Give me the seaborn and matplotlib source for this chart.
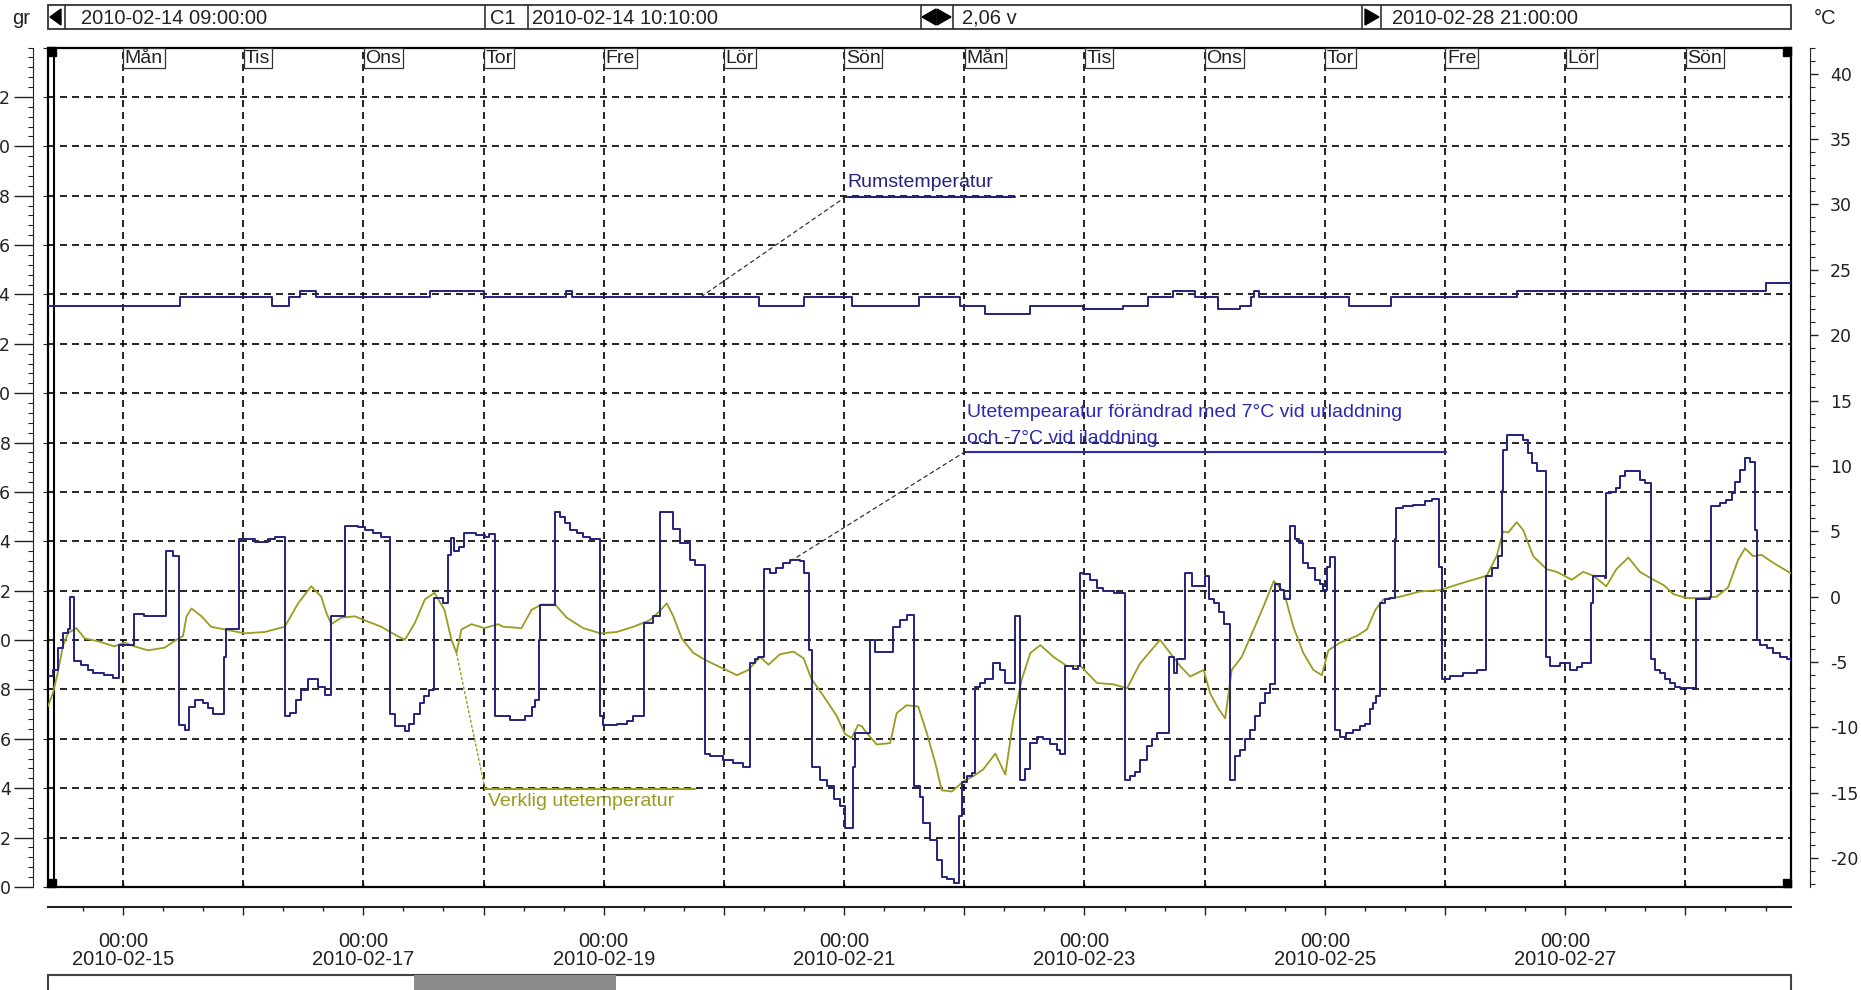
import matplotlib
matplotlib.use("Agg")
import numpy as np
import pandas as pd
import matplotlib.pyplot as plt
import matplotlib.dates as mdates
from matplotlib.patches import Rectangle, Polygon
from matplotlib.ticker import MultipleLocator, FixedLocator, FuncFormatter
import seaborn as sns

# time span shown by the logger
start = pd.Timestamp("2010-02-14 09:00:00")
end = pd.Timestamp("2010-02-28 21:00:00")
c1_time = pd.Timestamp("2010-02-14 10:10:00")

# outdoor temp shifted +7 (discharge) / -7 (charge), hours after start, degC
mod_h = [0.0, 1.0, 2.0, 3.0, 4.0, 4.4, 5.2, 6.7, 8.0, 9.0, 11.3, 13.0, 14.3, 17.2, 19.3, 23.7, 25.0,
         26.1, 27.3, 28.1, 29.3, 31.0, 32.0, 33.0, 35.2, 35.6, 38.2, 41.3, 43.9, 45.3, 47.3, 48.3,
         49.6, 50.6, 51.9, 53.9, 55.3, 56.5, 59.3, 61.9, 63.3, 64.9, 66.6, 68.3, 69.3, 71.3, 72.2,
         73.2, 74.3, 75.2, 76.2, 77.2, 78.9, 79.9, 80.6, 81.2, 82.2, 83.2, 85.6, 87.2, 88.0, 89.2,
         92.3, 95.3, 96.6, 97.3, 98.0, 98.3, 101.3, 102.3, 103.3, 104.3, 105.6, 106.9, 108.3, 110.3,
         110.9, 113.6, 115.6, 116.9, 119.1, 120.9, 122.2, 124.9, 126.2, 128.2, 129.2, 131.2, 132.2,
         134.9, 136.9, 138.9, 140.2, 141.2, 141.9, 143.0, 144.2, 145.5, 146.9, 148.2, 150.2, 150.9,
         151.9, 152.5, 154.2, 155.5, 156.9, 158.2, 159.2, 160.8, 161.2, 164.2, 165.2, 168.8, 170.2,
         171.5, 173.0, 174.2, 174.8, 176.2, 177.5, 178.5, 179.5, 180.9, 181.9, 182.5, 183.5, 184.5,
         185.2, 186.2, 187.2, 188.8, 190.2, 191.2, 193.2, 194.2, 195.2, 196.2, 197.5, 198.8, 200.2,
         201.5, 202.2, 203.2, 204.8, 205.8, 206.2, 206.8, 208.1, 209.5, 210.8, 212.8, 215.1, 216.1,
         217.1, 218.1, 219.5, 220.5, 221.5, 223.8, 224.8, 225.5, 227.1, 228.5, 231.1, 231.8, 232.8,
         233.8, 234.8, 236.1, 237.1, 238.1, 239.1, 240.1, 241.1, 242.1, 243.1, 244.1, 245.1, 246.1,
         246.8, 248.1, 249.1, 249.8, 250.7, 251.7, 253.1, 254.1, 254.7, 255.4, 256.1, 257.1, 258.1,
         259.3, 260.7, 262.0, 263.0, 264.0, 264.7, 265.3, 266.0, 267.0, 268.0, 269.0, 269.3, 270.6,
         272.6, 275.0, 276.3, 277.8, 278.3, 280.0, 282.6, 285.3, 287.2, 288.3, 289.6, 290.3, 290.6,
         291.3, 294.6, 295.6, 296.3, 297.3, 299.1, 299.9, 301.9, 303.9, 305.3, 306.3, 308.1, 308.6,
         310.9, 311.2, 312.2, 313.2, 313.9, 314.9, 316.9, 317.9, 318.9, 320.2, 320.9, 321.9, 322.9,
         323.9, 324.9, 325.9, 329.1, 331.9, 332.2, 333.9, 335.2, 336.2, 336.9, 337.9, 338.9, 339.9,
         340.9, 341.2, 341.9, 343.2, 344.5, 345.9, 347.2, 348.0]
mod_t = [-6.1, -5.6, -3.9, -2.8, -2.5, 0.0, -4.9, -5.2, -5.6, -5.8, -6.0, -6.2, -3.7, -1.3, -1.5, 3.5, 3.1,
         -9.8, -10.2, -8.4, -7.9, -8.1, -8.5, -9.0, -4.6, -2.5, 4.4, 4.2, 4.4, 4.6, -9.1, -8.9,
         -7.9, -7.1, -6.3, -6.9, -7.5, -1.5, 5.4, 5.3, 5.1, 4.9, 4.6, -9.0, -9.9, -10.3, -9.7,
         -9.0, -8.1, -7.6, -7.1, -0.1, -0.5, 3.2, 4.5, 3.5, 3.8, 4.9, 4.7, 4.6, 4.8, -9.1,
         -9.4, -9.1, -8.4, -7.9, -3.3, -0.6, 6.5, 6.1, 5.6, 5.1, 4.9, 4.6, 4.4, -9.1,
         -9.8, -9.7, -9.5, -9.1, -2.0, -1.5, 6.5, 5.2, 4.1, 2.8, 2.4, -12.0, -12.2,
         -12.5, -12.7, -13.0, -5.1, -4.8, -4.6, 2.1, 1.8, 2.2, 2.6, 2.8, 2.7, 1.8,
         -4.1, -13.0, -14.0, -14.5, -15.5, -16.0, -17.7, -13.0, -10.4, -3.3, -4.2, -2.3, -1.8,
         -1.4, -14.5, -15.3, -17.3, -18.6, -20.1, -21.4, -21.6, -21.9, -16.8, -14.2, -13.7, -13.5,
         -6.9, -6.6, -6.3, -5.1, -5.6, -6.6, -1.5, -14.0, -13.2, -11.2, -10.7, -10.9, -11.3,
         -11.7, -12.0, -5.3, -5.5, -5.3, 1.8, 1.7, 1.3, 0.7, 0.4, 0.3, -14.0, -13.7,
         -13.4, -12.5, -11.4, -10.9, -10.4, -4.6, -5.8, -4.8, 1.8, 0.8, 1.6, -0.2, -0.5,
         -1.2, -2.1, -14.0, -12.2, -11.7, -10.9, -10.2, -9.1, -8.1, -7.4, -6.7, 1.0, 0.5,
         -0.2, 5.4, 4.4, 4.1, 2.6, 2.2, 1.3, 1.0, 0.5, 2.3, 3.0, -10.2, -10.7,
         -10.4, -10.2, -9.9, -9.7, -8.6, -8.1, -7.6, -0.5, -0.2, -0.1, 4.4, 6.8, 6.9,
         7.0, 7.3, 7.5, 2.3, -6.3, -6.1, -5.8, -5.6, 1.6, 2.2, 3.1, 8.1, 11.2,
         12.4, 12.0, 11.0, 10.2, 9.6, -4.6, -5.3, -5.1, -5.6, -5.4, -5.1, -0.5, 1.6,
         1.4, 7.9, 8.0, 8.3, 9.2, 9.6, 9.6, 8.9, 8.7, -4.8, -5.6, -5.8, -6.3,
         -6.6, -6.9, -7.0, -0.2, 0.0, 6.9, 7.2, 7.4, 7.9, 8.8, 9.7, 10.6, 10.3,
         5.1, -3.3, -3.7, -3.9, -4.3, -4.6, -4.8, -4.9]

# real outdoor temperature
ute_h = [0.0, 1.0, 2.0, 3.0, 4.0, 5.7, 7.4, 10.0, 13.3, 15.3, 17.3, 20.0, 23.3, 25.7, 27.0, 27.7, 28.7,
         30.7, 32.6, 35.3, 39.3, 43.3, 47.3, 50.0, 52.6, 54.6, 55.6, 56.6, 58.6, 61.3, 63.9, 66.6,
         69.3, 71.3, 73.3, 75.3, 77.2, 79.2, 80.6, 81.6, 82.6, 84.6, 87.2, 89.9, 91.0, 94.6, 96.6,
         98.6, 101.3, 103.6, 106.9, 110.3, 113.6, 116.9, 120.2, 122.2, 123.6, 124.9, 126.6, 128.9,
         131.6, 134.9, 137.6, 139.9, 142.2, 143.9, 146.2, 148.9, 150.9, 152.5, 154.9, 157.5, 159.2,
         160.5, 161.8, 162.5, 163.5, 165.5, 168.2, 169.5, 171.5, 173.8, 175.5, 177.2, 178.5, 180.5,
         182.9, 184.9, 186.8, 189.2, 191.2, 192.8, 194.5, 196.2, 198.2, 200.8, 203.5, 206.2, 209.5,
         212.8, 215.5, 218.1, 222.1, 224.1, 226.1, 228.1, 230.8, 232.1, 233.8, 235.1, 236.4, 238.4,
         240.8, 242.8, 244.8, 246.8, 248.7, 250.7, 252.7, 254.4, 255.7, 258.1, 261.4, 263.4, 265.1,
         266.7, 270.0, 274.0, 278.0, 282.0, 287.3, 289.3, 290.6, 291.6, 293.3, 294.6, 296.6, 299.3,
         301.3, 304.3, 306.6, 308.6, 311.2, 313.2, 315.6, 317.9, 320.6, 322.6, 324.6, 327.2, 329.9,
         333.2, 335.5, 337.5, 338.9, 340.5, 342.2, 344.5, 348.0]
ute_t = [-8.4, -7.4, -5.8, -3.8, -2.8, -2.4, -3.2, -3.4, -3.8, -3.5, -3.8, -4.1, -3.9, -3.3, -3.0, -1.5, -0.9,
         -1.5, -2.3, -2.5, -2.8, -2.7, -2.3, -0.5, 0.8, 0.0, -1.2, -2.1, -1.6, -1.5, -1.9, -2.3,
         -2.9, -3.3, -2.0, -0.2, 0.3, -1.0, -3.3, -4.3, -2.5, -2.1, -2.4, -2.1, -2.3, -2.4, -1.0,
         -0.6, -0.6, -1.6, -2.4, -2.8, -2.7, -2.3, -1.8, -1.1, -0.5, -1.5, -3.2, -4.3,
         -4.9, -5.5, -6.0, -5.6, -4.6, -5.2, -4.4, -4.2, -4.7, -6.3, -7.6, -9.1, -10.5,
         -10.8, -9.8, -9.9, -10.4, -11.3, -11.2, -8.9, -8.3, -8.4, -10.4, -12.7, -14.8, -14.9,
         -14.1, -13.7, -13.2, -12.0, -13.6, -9.4, -6.3, -4.3, -3.7, -4.6, -5.3, -5.3, -6.6,
         -6.7, -7.0, -5.1, -3.3, -4.3, -5.3, -6.1, -5.6, -7.4, -8.6, -9.3, -5.6, -4.6,
         -2.5, -0.7, 1.2, 0.4, -2.3, -4.3, -5.6, -6.0, -4.1, -3.5, -3.0, -2.5, -1.0,
         -0.2, 0.0, 0.4, 0.5, 1.0, 1.6, 3.1, 5.0, 4.9, 5.7, 5.1, 3.1, 2.1,
         1.9, 1.3, 1.9, 1.6, 0.8, 2.1, 3.0, 1.9, 1.3, 0.9, 0.2, -0.1, -0.1,
         0.0, 0.7, 2.8, 3.7, 3.1, 3.2, 2.6, 1.8]

# room temperature (step data)
rum_h = [0.0, 26.3, 44.7, 48.1, 50.3, 53.5, 76.4, 87.0, 103.4, 104.6, 142.0, 151.0, 160.5, 174.0, 182.1,
         187.2, 196.1, 206.7, 214.6, 219.6, 224.6, 229.1, 233.6, 238.0, 240.3, 240.8, 241.9, 259.8,
         268.2, 293.4, 343.1, 348.0]
rum_t = [22.2, 22.9, 22.2, 22.9, 23.4, 22.9, 23.4, 22.9, 23.4, 22.9, 22.2, 22.9, 22.2, 22.9, 22.2,
         21.6, 22.2, 22.0, 22.2, 22.9, 23.4, 22.9, 22.0, 22.2, 22.9, 23.4, 22.9, 22.2,
         22.9, 23.4, 24.0, 24.0]

day_names = ["Mån", "Tis", "Ons", "Tor", "Fre", "Lör", "Sön"]
left_ticks = list(range(0, 33, 2))
right_ticks = list(range(-20, 41, 5))

navy = "#23237e"
note_blue = "#2a2ab4"
olive = "#9b9b1f"


def to_time(hours):
    return start + pd.to_timedelta(np.asarray(hours), unit="h")


def step_at(h, hs, ts):
    i = np.searchsorted(hs, h, side="right") - 1
    return ts[i]


sns.set_style("white")
plt.rcParams["font.family"] = ["Liberation Sans", "DejaVu Sans"]
plt.rcParams["axes.unicode_minus"] = False

W, H = 1861, 990
fig = plt.figure(figsize=(W / 100, H / 100), dpi=100)


def fx(px):
    return px / W


def fy(py):
    return 1 - py / H


# plot area in pixels
L, R, T, B = 47.8, 1790.6, 47.5, 887.0
ax = fig.add_axes([fx(L), fy(B), fx(R - L), (B - T) / H])
ax.set_xlim(start, end)
ax.set_ylim(0, 34)
ax.xaxis.set_major_locator(mdates.DayLocator())
ax.yaxis.set_major_locator(MultipleLocator(2))
ax.grid(True, color="black", linestyle=(0, (4.2, 3.0)), linewidth=1.2)
ax.tick_params(axis="y", left=False, right=False, labelleft=False)
ax.tick_params(axis="x", direction="in", length=3, width=1, bottom=True, top=False,
               labelbottom=False, color="black")
for s in ax.spines.values():
    s.set_color("black")
    s.set_linewidth(1.6)

# left scale (gr)
axl = ax.twinx()
axl.set_ylim(0, 34)
axl.yaxis.tick_left()
for name in ["right", "top", "bottom"]:
    axl.spines[name].set_visible(False)
axl.spines["left"].set_visible(True)
axl.spines["left"].set_position(("outward", 10.7))
axl.spines["left"].set_color("#222")
axl.yaxis.set_major_locator(FixedLocator(left_ticks))
axl.yaxis.set_minor_locator(MultipleLocator(0.4))
axl.tick_params(axis="y", which="major", direction="out", length=14, width=1, pad=2,
                labelsize=12.5, labelcolor="#222", labelfontfamily="DejaVu Sans", color="#222")
axl.tick_params(axis="y", which="minor", direction="out", length=3.5, width=0.8, color="#222")

# data axis (degC) on the right
axr = ax.twinx()
axr.set_ylim(-22.2, 42.0)
for name in ["left", "top", "bottom"]:
    axr.spines[name].set_visible(False)
axr.spines["right"].set_position(("outward", 14))
axr.spines["right"].set_color("#222")
axr.yaxis.set_major_locator(FixedLocator(right_ticks))
axr.yaxis.set_minor_locator(MultipleLocator(1))
axr.tick_params(axis="y", which="major", direction="out", length=5.8, width=1, pad=8.6,
                labelsize=12.5, labelcolor="#222", labelfontfamily="DejaVu Sans", color="#222")
axr.tick_params(axis="y", which="minor", direction="out", length=3.5, width=0.8, color="#222")

rum = pd.DataFrame({"tid": to_time(rum_h), "temp": rum_t})
mod = pd.DataFrame({"tid": to_time(mod_h), "temp": mod_t})
ute = pd.DataFrame({"tid": to_time(ute_h), "temp": ute_t})

sns.lineplot(data=rum, x="tid", y="temp", ax=axr, color=navy, lw=1.4, drawstyle="steps-post")
sns.lineplot(data=ute, x="tid", y="temp", ax=axr, color=olive, lw=1.3)
sns.lineplot(data=mod, x="tid", y="temp", ax=axr, color=navy, lw=1.4, drawstyle="steps-post")
axr.set_xlabel("")
axr.set_ylabel("")
axr.set_xlim(start, end)

# cursor C1 and the corner markers
ax.axvline(c1_time, color="black", lw=1.5, zorder=5)
for (px, py) in [(L, T), (L, B - 8), (R - 8, T), (R - 8, B - 8)]:
    fig.add_artist(Rectangle((fx(px), fy(py + 8)), fx(8), 8 / H, transform=fig.transFigure,
                             color="black", zorder=10))

# weekday boxes on top of each day line
for d in pd.date_range("2010-02-15", "2010-02-28", freq="D"):
    ax.annotate(day_names[d.weekday()], xy=(d, 1), xycoords=("data", "axes fraction"),
                xytext=(1.4, -1.6), textcoords="offset points", ha="left", va="top",
                fontsize=14, color="#222", zorder=6,
                bbox=dict(boxstyle="square,pad=0.08", fc="white", ec="#333", lw=0.9))

# notes
rum_anchor = 130.3
rum_elbow = (159.4, 30.6)
rum_end = 193.1
axr.annotate("", xy=(to_time(rum_anchor), step_at(rum_anchor, rum_h, rum_t)),
             xytext=(to_time(rum_elbow[0]), rum_elbow[1]),
             arrowprops=dict(arrowstyle="-", ls=(0, (3, 3)), color="#333", lw=0.9,
                             shrinkA=0, shrinkB=0))
axr.plot(to_time([rum_elbow[0], rum_end]), [rum_elbow[1]] * 2, color=navy, lw=1.5)
axr.annotate("Rumstemperatur", xy=(to_time(rum_elbow[0]), rum_elbow[1]), xytext=(1, 4),
             textcoords="offset points", ha="left", va="bottom", fontsize=14, color=navy)

mod_anchor = 147.8
mod_elbow = (183.2, 11.1)
mod_end = 279.2
axr.annotate("", xy=(to_time(mod_anchor), step_at(mod_anchor, mod_h, mod_t)),
             xytext=(to_time(mod_elbow[0]), mod_elbow[1]),
             arrowprops=dict(arrowstyle="-", ls=(0, (3, 3)), color="#333", lw=0.9,
                             shrinkA=0, shrinkB=0))
axr.plot(to_time([mod_elbow[0], mod_end]), [mod_elbow[1]] * 2, color=note_blue, lw=1.5)
axr.annotate("Utetempearatur förändrad med 7°C vid urladdning\noch -7°C vid iladdning",
             xy=(to_time(mod_elbow[0]), mod_elbow[1]), xytext=(1, 3),
             textcoords="offset points", ha="left", va="bottom", fontsize=14,
             color=note_blue, linespacing=1.75)

ute_anchor = 81.6
ute_elbow = (87.3, -14.7)
ute_end = 129.3
axr.annotate("", xy=(to_time(ute_anchor), np.interp(ute_anchor, ute_h, ute_t)),
             xytext=(to_time(ute_elbow[0]), ute_elbow[1]),
             arrowprops=dict(arrowstyle="-", ls=(0, (1.5, 2)), color=olive, lw=1.0,
                             shrinkA=0, shrinkB=0))
axr.plot(to_time([ute_elbow[0], ute_end]), [ute_elbow[1]] * 2, color=olive, lw=1.5)
axr.annotate("Verklig utetemperatur", xy=(to_time(ute_elbow[0]), ute_elbow[1]), xytext=(2, -3),
             textcoords="offset points", ha="left", va="top", fontsize=14, color=olive)

# time scale below the plot
axb = fig.add_axes([fx(L), fy(907), fx(R - L), 1e-4])
axb.set_xlim(start, end)
axb.set_yticks([])
for name in ["left", "right", "top"]:
    axb.spines[name].set_visible(False)
axb.spines["bottom"].set_color("#222")
axb.spines["bottom"].set_linewidth(1.5)
axb.patch.set_visible(False)
axb.xaxis.set_major_locator(mdates.DayLocator())
axb.xaxis.set_minor_locator(mdates.HourLocator(byhour=[8, 16]))


def day_label(x, pos):
    d = mdates.num2date(x)
    if (d.day - 15) % 2 == 0:
        return "00:00\n" + d.strftime("%Y-%m-%d")
    return ""


axb.xaxis.set_major_formatter(FuncFormatter(day_label))
axb.tick_params(axis="x", which="major", direction="out", length=5.5, width=1, pad=12.5,
                bottom=True, labelsize=14.5, labelcolor="#222", color="#222")
axb.tick_params(axis="x", which="minor", direction="out", length=3, width=1, bottom=True,
                color="#222")
for lbl in axb.get_xticklabels():
    lbl.set_linespacing(0.95)

# scroll bar
fig.add_artist(Rectangle((fx(L), fy(992)), fx(R - L), 17.5 / H, transform=fig.transFigure,
                         fc="white", ec="#444", lw=1.5))
fig.add_artist(Rectangle((fx(414), fy(992)), fx(202), 17 / H, transform=fig.transFigure,
                         fc="#8c8c8c", ec="none"))

# header bar
hy0, hy1 = 5, 29
hc = (hy0 + hy1) / 2
fig.add_artist(Rectangle((fx(L), fy(hy1)), fx(R - L), (hy1 - hy0) / H, transform=fig.transFigure,
                         fc="white", ec="#333", lw=1.3))
for xdiv in [65, 485, 528, 921, 953, 1362, 1381]:
    fig.add_artist(plt.Line2D([fx(xdiv)] * 2, [fy(hy0), fy(hy1)], transform=fig.transFigure,
                              color="#333", lw=1.2))
icons = [
    [(50, hc), (61, hy0 + 4), (61, hy1 - 4)],
    [(922, hc), (936, hy0 + 4), (936, hy1 - 4)],
    [(951, hc), (937, hy0 + 4), (937, hy1 - 4)],
    [(1379, hc), (1365, hy0 + 4), (1365, hy1 - 4)],
]
for tri in icons:
    fig.add_artist(Polygon([(fx(a), fy(b)) for a, b in tri], closed=True,
                           transform=fig.transFigure, color="black"))
header = [(12, "gr"), (81, "2010-02-14 09:00:00"), (490, "C1"), (532, "2010-02-14 10:10:00"),
          (962, "2,06 v"), (1392, "2010-02-28 21:00:00"), (1814, "°C")]
for xpos, txt in header:
    fig.text(fx(xpos), fy(hc + 1), txt, ha="left", va="center", fontsize=14.5, color="#222")

fig.savefig("out.png", dpi=100, facecolor="white")
